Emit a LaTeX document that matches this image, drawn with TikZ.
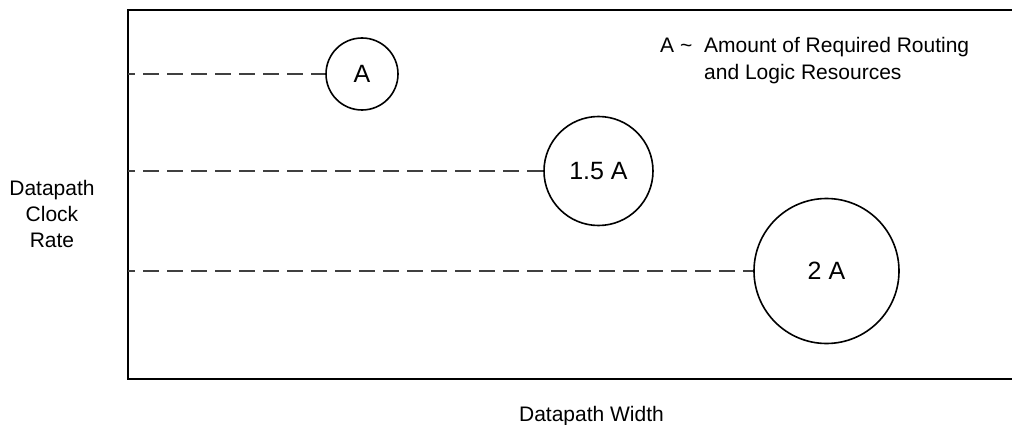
\documentclass[tikz,border=0pt]{standalone}
\usepackage{fontspec}
\setmainfont{Liberation Sans}
\begin{document}
\begin{tikzpicture}[x=1pt,y=-1pt,
  lbl/.style={font=\fontsize{21}{26}\selectfont, inner sep=0pt},
  res/.style={circle, draw=black, line width=1.6pt, inner sep=0pt, font=\fontsize{25}{30}\selectfont},
  guide/.style={draw=black!75, line width=1.1pt, dash pattern=on 16pt off 8pt, dash phase=9pt},
  frame/.style={draw=black, line width=2pt}]
\useasboundingbox (0,0) rectangle (1012,425);
% frame
\coordinate (tr) at (1014,10);
\coordinate (tl) at (128,10);
\coordinate (bl) at (128,379);
\coordinate (br) at (1014,379);
\draw[frame] (tr) -- (tl) -- (bl) -- (br);
% circles
\node[res, minimum size=72pt] (cA) at (362,74) {A};
\node[res, minimum size=109pt] (cB) at (598.5,171) {1.5 A};
\node[res, minimum size=145pt] (cC) at (826.5,271) {2 A};
% dashed guides
\coordinate (g1) at (128,74);
\coordinate (g2) at (128,171);
\coordinate (g3) at (128,271);
\draw[guide] (g1) -- (cA.west);
\draw[guide] (g2) -- (cB.west);
\draw[guide] (g3) -- (cC.west);
% labels
\node[lbl, align=center] (ylab) at (52,214) {Datapath\\Clock\\Rate};
\node[lbl, anchor=base] (xlab) at (591.5,421.5) {Datapath Width};
\node[lbl, anchor=base west] (legA) at (660,53) {A \textasciitilde};
\node[lbl, anchor=base west, align=left, font=\fontsize{21}{27}\selectfont] (legT) at (704,80) {Amount of Required Routing\\and Logic Resources};
\end{tikzpicture}
\end{document}
